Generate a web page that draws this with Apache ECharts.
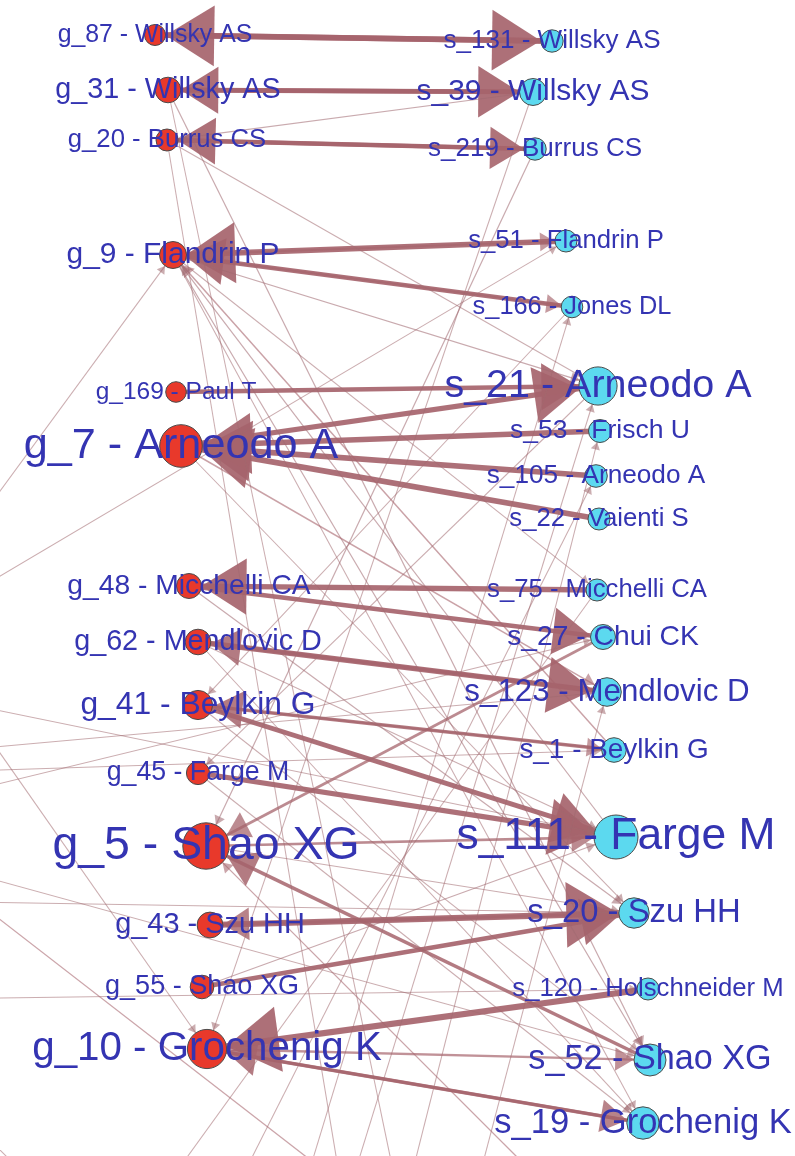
<!DOCTYPE html>
<html>
<head>
<meta charset="utf-8">
<script src="https://cdn.jsdelivr.net/npm/echarts@6.0.0/dist/echarts.min.js"></script>
<style>
* { margin: 0; padding: 0; }
body { background: #fff; }
</style>
</head>
<body>
<div id="main" style="width: 795px;height: 1156px;background:#fff"></div>
<script>
// authors (g_ = left column, s_ = right column)
const nodeNames = [
  'g_87 - Willsky AS', 'g_31 - Willsky AS', 'g_20 - Burrus CS', 'g_9 - Flandrin P',
  'g_169 - Paul T', 'g_7 - Arneodo A', 'g_48 - Micchelli CA', 'g_62 - Mendlovic D',
  'g_41 - Beylkin G', 'g_45 - Farge M', 'g_5 - Shao XG', 'g_43 - Szu HH',
  'g_55 - Shao XG', 'g_10 - Grochenig K',
  's_131 - Willsky AS', 's_39 - Willsky AS', 's_219 - Burrus CS', 's_51 - Flandrin P',
  's_166 - Jones DL', 's_21 - Arneodo A', 's_53 - Frisch U', 's_105 - Arneodo A',
  's_22 - Vaienti S', 's_75 - Micchelli CA', 's_27 - Chui CK', 's_123 - Mendlovic D',
  's_1 - Beylkin G', 's_111 - Farge M', 's_20 - Szu HH', 's_120 - Holschneider M',
  's_52 - Shao XG', 's_19 - Grochenig K'
]
const nodeX = [
  155, 168, 167, 173, 176, 181, 189, 198, 198, 198, 206, 210, 202, 207,
  552, 533, 535, 566, 572, 598, 600, 596, 599, 597, 603, 607, 614, 616, 634, 648, 650, 643
]
const nodeY = [
  35, 90, 140, 255, 392, 446, 586, 642, 705, 773, 846, 925, 987, 1049,
  41, 92, 149, 241, 307, 386, 431, 476, 519, 590, 637, 692, 750, 837, 913, 989, 1060, 1123
]
const nodeScore = [
  10.5, 12.8, 11, 13.5, 10.3, 21.3, 12.5, 12.8, 14.6, 11.6, 23.2, 12.9, 11.8, 19.6,
  11.2, 13.5, 11.2, 11, 10.8, 19.1, 11.5, 11.3, 11, 11, 12.5, 14.3, 12.3, 22, 15.2, 11, 16, 16.2
]

// neighbours that sit outside the visible frame
const outNames = ['x1', 'x2', 'x3', 'x4', 'x5', 'x6', 'x7', 'x8', 'x9', 'x10', 'x11', 'x12', 'x13',
  'x14', 'x15', 'x16', 'x17', 'x18', 'x19', 'x20', 'x21', 'x22', 'x23', 'x24', 'x25']
const outX = [-120, -150, -150, -150, -150, -150, -150, -150, -100, 420, 560, 270, 380,
  180, 460, 120, 420, 360, -100, 150, -100, 250, -150, 300, -100]
const outY = [655, 665, 680, 760, 775, 820, 900, 840, 842, 1245, 1200, 1300, 1300,
  1300, 1250, 1250, 1300, 1300, 1050, 1300, 1120, 1300, 1000, 1350, 610]

// directed citations: from -> to, weight
const linkFrom = [
  's_131', 'g_87', 's_39', 'g_31', 's_219', 'g_20', 's_51', 'g_9', 's_166', 'g_9',
  'g_169', 'g_7', 's_53', 's_105', 's_22', 's_75', 'g_48', 's_123', 'g_62', 's_1',
  'g_41', 'g_45', 'g_41', 'g_5', 's_20', 'g_43', 'g_55', 's_120', 'g_10', 'g_10', 's_19',
  's_39', 's_219', 'g_31', 'g_20', 's_39', 's_1', 's_111', 'g_9', 'g_9', 'g_9',
  'g_9', 'g_7', 'g_55', 'g_48', 'g_62', 's_21', 's_166', 's_27', 's_52', 'x11',
  'g_5', 'g_41', 'g_45', 'g_7', 'g_62', 'x1', 'x2', 'x3', 'x4', 'x5',
  'x6', 'x7', 'x8', 'x9', 'x12', 'x13', 'x14', 'x15', 's_75', 'g_31',
  'g_20', 'x19', 'x21', 'x23', 'x24', 'x25'
]
const linkTo = [
  'g_87', 's_131', 'g_31', 's_39', 'g_20', 's_219', 'g_9', 's_51', 'g_9', 's_166',
  's_21', 's_21', 'g_7', 'g_7', 'g_7', 'g_48', 's_27', 'g_62', 's_123', 'g_41',
  's_1', 's_111', 's_111', 's_111', 'g_43', 's_20', 's_20', 'g_10', 's_52', 's_19', 'g_10',
  'g_10', 'g_5', 's_52', 's_21', 'g_20', 'g_9', 'g_9', 's_52', 's_19', 's_75',
  's_21', 's_123', 's_111', 's_20', 's_19', 'g_45', 'g_41', 'g_5', 'g_5', 'g_5',
  's_20', 's_52', 's_19', 's_20', 's_111', 'g_9', 's_51', 's_111', 's_123', 's_1',
  's_27', 's_20', 's_52', 'x10', 's_166', 's_53', 's_105', 's_123', 'x16', 'x17',
  'x18', 'x20', 'x22', 's_120', 's_21', 'g_10'
]
const linkWeight = [
  6.5, 6.5, 5, 5.5, 5, 4.5, 6.5, 2, 5, 2,
  5, 6, 6.5, 6.5, 6.5, 6, 5, 4, 6, 4,
  2, 6, 5.5, 3, 3.5, 7, 5, 7, 2.5, 3.5, 4,
  1, 1.2, 1.2, 1, 1.2, 1.5, 1.2, 1.2, 1, 1,
  1.2, 1.5, 1.2, 1.2, 1, 1, 1, 3, 4, 1.3,
  1, 1, 1, 1, 1, 1, 1, 1, 1, 1,
  1, 1, 1, 1.3, 1, 1, 1, 1, 1, 1,
  1, 1, 1, 1, 1, 1
]

const arrowPath = 'path://M-16,0 M16,0 M0,20 L-10,40 L10,40 Z'

function shortName(n) {
  return n.split(' - ')[0]
}

const nodes = nodeNames.map(function (n, i) {
  const left = n.indexOf('g_') === 0
  return {
    name: shortName(n),
    value: [nodeX[i], nodeY[i]],
    symbolSize: nodeScore[i] * 2,
    itemStyle: {
      color: left ? '#e8392b' : '#5cd9ef',
      borderColor: '#4a4a4a',
      borderWidth: 1
    },
    label: {
      show: true,
      position: 'inside',
      formatter: n,
      fontSize: nodeScore[i] * 1.7 + 7,
      color: '#3434b2',
      fontFamily: 'Liberation Sans, Arial, sans-serif'
    }
  }
}).concat(outNames.map(function (n, i) {
  return {
    name: n,
    value: [outX[i], outY[i]],
    symbolSize: 0,
    itemStyle: { opacity: 0 },
    label: { show: false }
  }
}))

const links = linkFrom.map(function (f, i) {
  const w = linkWeight[i]
  const hidden = linkTo[i].indexOf('x') === 0
  return {
    source: f,
    target: linkTo[i],
    symbol: ['none', hidden ? 'none' : arrowPath],
    symbolSize: [0, w * 15],
    lineStyle: {
      width: w * 0.85 + 0.2,
      color: w > 1.25 ? 'rgb(166,100,108)' : 'rgb(160,105,112)',
      opacity: Math.min(0.92, 0.45 + w * 0.1)
    }
  }
})

const chart = echarts.init(document.getElementById('main'))
chart.setOption({
  animation: false,
  grid: { left: 0, right: 0, top: 0, bottom: 0 },
  xAxis: { type: 'value', min: 0, max: 795, show: false },
  yAxis: { type: 'value', min: 0, max: 1156, inverse: true, show: false },
  series: [{
    type: 'graph',
    layout: 'none',
    coordinateSystem: 'cartesian2d',
    data: nodes,
    links: links,
    emphasis: { disabled: true },
    lineStyle: { curveness: 0 }
  }]
})
</script>
</body>
</html>
